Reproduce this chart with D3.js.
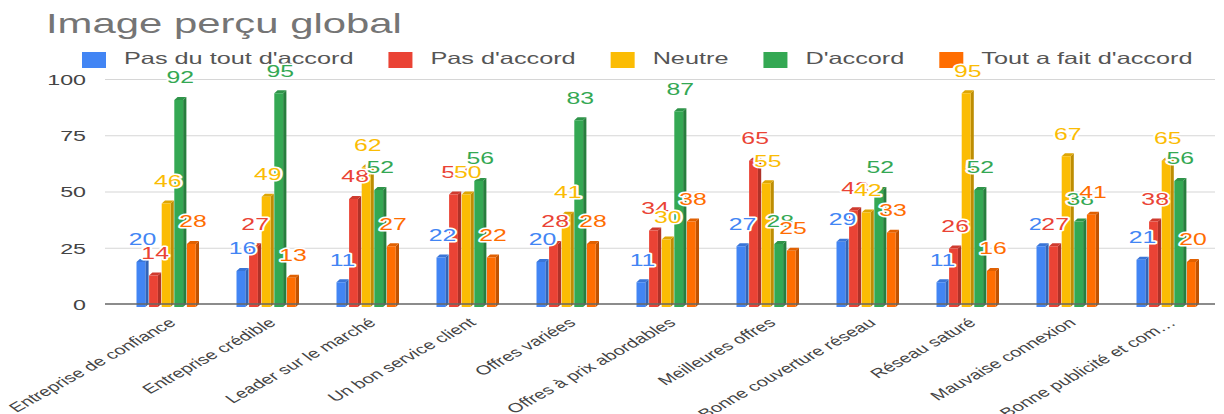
<!DOCTYPE html>
<html>
<head>
<meta charset="utf-8">
<script src="https://cdn.jsdelivr.net/npm/d3@7"></script>
<style>
  html, body { margin: 0; padding: 0; background: #fff; overflow: hidden; }
  svg { display: block; font-family: "Liberation Sans", Arial, sans-serif; }
</style>
</head>
<body>
<svg id="chart"></svg>
<script>
// Survey answers per statement (percent of respondents)
const categories = [
  "Entreprise de confiance", "Entreprise crédible", "Leader sur le marché",
  "Un bon service client", "Offres variées", "Offres à prix abordables",
  "Meilleures offres", "Bonne couverture réseau", "Réseau saturé",
  "Mauvaise connexion", "Bonne publicité et com…"
];
const seriesNames = ["Pas du tout d'accord", "Pas d'accord", "Neutre", "D'accord", "Tout a fait d'accord"];
const pasDuToutDaccord = [20, 16, 11, 22, 20, 11, 27, 29, 11, 27, 21];
const pasDaccord       = [14, 27, 48, 50, 28, 34, 65, 43, 26, 27, 38];
const neutre           = [46, 49, 62, 50, 41, 30, 55, 42, 95, 67, 65];
const daccord          = [92, 95, 52, 56, 83, 87, 28, 52, 52, 38, 56];
const toutAFaitDaccord = [28, 13, 27, 22, 28, 38, 25, 33, 16, 41, 20];
const yTicks = [0, 25, 50, 75, 100];
const seriesColors = ["#4285F4", "#EA4335", "#FBBC04", "#34A853", "#FF6D01"];
const titleText = "Image perçu global";

const seriesValues = [pasDuToutDaccord, pasDaccord, neutre, daccord, toutAFaitDaccord];

// The drawing is laid out in a narrower space and stretched horizontally.
const SX = 1.55;
const WIDTH = 1224, HEIGHT = 414;
const VW = WIDTH / SX;
const hx = v => v / SX;   // horizontal page pixels -> drawing units

const svg = d3.select("#chart")
  .attr("width", WIDTH).attr("height", HEIGHT)
  .attr("viewBox", `0 0 ${VW} ${HEIGHT}`)
  .attr("preserveAspectRatio", "none");

const x0 = d3.scaleBand().domain(categories)
  .range([hx(118), hx(1218)]).paddingInner(0.37).paddingOuter(0.185);
const x1 = d3.scaleBand().domain(seriesNames).range([0, x0.bandwidth()]);
const y = d3.scaleLinear().domain([0, 100]).range([304, 79]);
const color = d3.scaleOrdinal().domain(seriesNames).range(seriesColors);

// Title
svg.append("text")
  .attr("x", hx(46)).attr("y", 33)
  .attr("font-size", 27).attr("fill", "#757575")
  .text(titleText);

// Legend
const legend = svg.append("g");
let lx = hx(82);
seriesNames.forEach(name => {
  legend.append("rect")
    .attr("x", lx).attr("y", 52)
    .attr("width", hx(24)).attr("height", 16)
    .attr("fill", color(name));
  const t = legend.append("text")
    .attr("x", lx + hx(42)).attr("y", 64.5)
    .attr("font-size", 16.3).attr("fill", "#555")
    .text(name);
  lx += hx(42) + t.node().getComputedTextLength() + hx(35);
});

// Gridlines
svg.append("g")
  .attr("transform", `translate(${hx(105)},0)`)
  .call(d3.axisLeft(y).tickValues(yTicks.filter(d => d > 0))
    .tickSizeInner(-(hx(1215) - hx(105))).tickSizeOuter(0).tickFormat(""))
  .call(g => g.select(".domain").remove())
  .call(g => g.selectAll("line").attr("stroke", "#d6d6d6").attr("stroke-width", 1));

// Y axis labels
svg.append("g")
  .attr("transform", `translate(${hx(86)},0)`)
  .call(d3.axisLeft(y).tickValues(yTicks).tickSize(0).tickPadding(0))
  .call(g => g.select(".domain").remove())
  .call(g => g.selectAll("text")
    .attr("font-family", "inherit").attr("font-size", 15)
    .attr("fill", "#444").attr("dy", "0.35em"));

// Bars with a simple 3D look: front face, darker side, top face
const bw = x1.bandwidth();
const fw = bw * 0.7, sw = bw * 0.26, depth = 3;

const groups = svg.append("g").selectAll("g")
  .data(categories)
  .join("g")
  .attr("transform", c => `translate(${x0(c)},0)`);

const bars = groups.selectAll("g.bar")
  .data((c, ci) => seriesNames.map((s, si) => ({ s, v: seriesValues[si][ci] })))
  .join("g").attr("class", "bar");

bars.append("polygon")
  .attr("points", d => {
    const x = x1(d.s) + fw, top = y(d.v), base = y(0);
    return [[x, top + depth], [x + sw, top], [x + sw, base], [x, base + depth]].join(" ");
  })
  .attr("fill", d => d3.color(color(d.s)).darker(0.8));

bars.append("polygon")
  .attr("points", d => {
    const x = x1(d.s), top = y(d.v);
    return [[x, top + depth], [x + sw, top], [x + fw + sw, top], [x + fw, top + depth]].join(" ");
  })
  .attr("fill", d => d3.color(color(d.s)).darker(0.35));

bars.append("rect")
  .attr("x", d => x1(d.s))
  .attr("y", d => y(d.v) + depth)
  .attr("width", fw)
  .attr("height", d => y(0) - y(d.v))
  .attr("fill", d => color(d.s));

// Baseline
svg.append("line")
  .attr("x1", hx(105)).attr("x2", hx(1215))
  .attr("y1", y(0)).attr("y2", y(0))
  .attr("stroke", "#666").attr("stroke-width", 1.5);

// Value labels with a white halo
const labels = svg.append("g");
categories.forEach((c, ci) => {
  seriesNames.forEach((s, si) => {
    const v = seriesValues[si][ci];
    labels.append("text")
      .attr("x", x0(c) + x1(s) + (fw + sw) / 2)
      .attr("y", y(v) - 13.5)
      .attr("text-anchor", "middle")
      .attr("font-size", 16)
      .attr("fill", color(s))
      .attr("stroke", "#fff").attr("stroke-width", 3)
      .attr("stroke-linejoin", "round")
      .attr("paint-order", "stroke")
      .text(v);
  });
});

// Category axis with slanted labels
const angle = Math.atan(SX * Math.tan(29 * Math.PI / 180)) * 180 / Math.PI;
svg.append("g")
  .attr("transform", `translate(0,${y(0)})`)
  .call(d3.axisBottom(x0).tickSize(0).tickPadding(0))
  .call(g => g.select(".domain").remove())
  .call(g => g.selectAll("text")
    .attr("font-family", "inherit").attr("font-size", 13)
    .attr("fill", "#444")
    .attr("text-anchor", "end")
    .attr("dy", null)
    .attr("y", 0)
    .attr("transform", `translate(${hx(9)},20) rotate(${-angle})`));
</script>
</body>
</html>
